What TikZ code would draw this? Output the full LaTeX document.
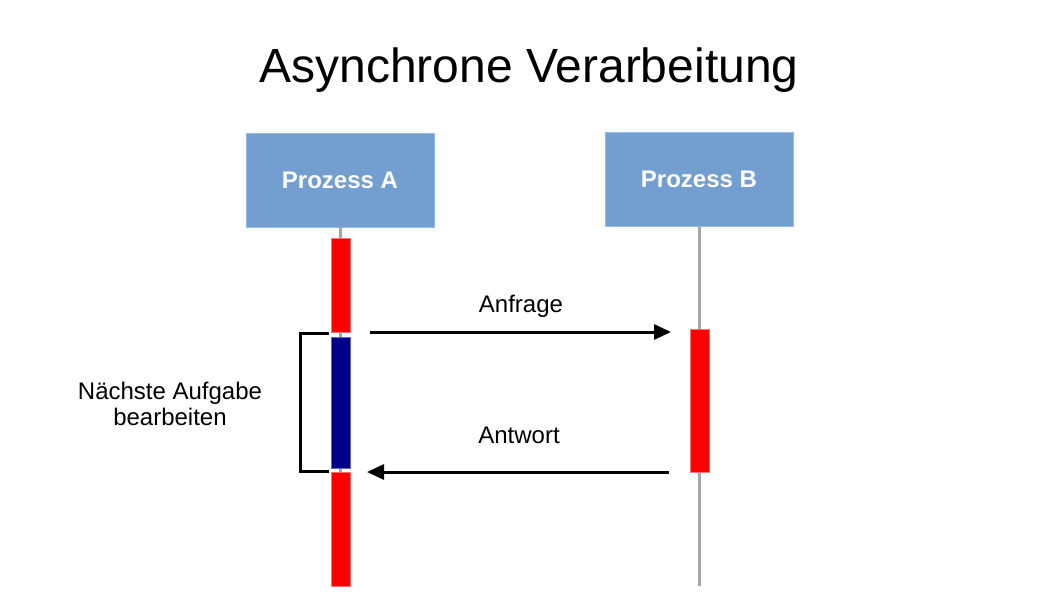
\documentclass[tikz,border=0pt]{standalone}
\usepackage{fontspec}
\setmainfont{Liberation Sans}
\usetikzlibrary{arrows.meta}
\definecolor{boxblue}{RGB}{114,159,207}
\definecolor{boxedge}{RGB}{150,185,225}
\definecolor{lifegray}{RGB}{166,166,166}
\definecolor{taskblue}{RGB}{0,0,139}
\tikzset{
  proc/.style={rectangle,fill=boxblue,draw=boxedge,line width=1pt,minimum width=188pt,minimum height=94pt,
    inner sep=0pt,outer sep=0pt,text=white,font=\fontsize{24}{28}\selectfont\bfseries},
  life/.style={lifegray,line width=3.5pt},
  bar/.style={rectangle,minimum width=19pt,inner sep=0pt,outer sep=0pt,line width=0.6pt},
  busy/.style={bar,fill=red,draw=red!55!white},
  work/.style={bar,fill=taskblue,draw=taskblue!60!white},
  msg/.style={line width=3pt,-{Triangle[length=17pt,width=15pt]}},
  lbl/.style={font=\fontsize{24}{26}\selectfont}
}
\begin{document}
\begin{tikzpicture}[x=1pt,y=-1pt]
  \useasboundingbox (0,0) rectangle (1058,595);
  \node[anchor=base,font=\fontsize{48}{56}\selectfont] (title) at (529,82) {Asynchrone Verarbeitung};
  \node[proc] (procA) at (340,180) {Prozess A};
  \node[proc] (procB) at (699,179.5) {Prozess B};
  \coordinate (endA) at (340.5,586);
  \coordinate (endB) at (699.5,586);
  \draw[life] (procA.south -| endA) -- (endA);
  \draw[life] (procB.south -| endB) -- (endB);
  \node[busy,minimum height=94pt] (a1) at (340.5,285) {};
  \node[work,minimum height=131pt] (a2) at (340.5,402.5) {};
  \node[busy,minimum height=114pt] (a3) at (340.5,529) {};
  \node[busy,minimum height=143pt] (b1) at (699.5,400.5) {};
  \draw[msg] ([xshift=20pt]a1.south east) -- (a1.south east -| b1.west) [shorten >=19pt];
  \draw[msg,shorten <=21pt,shorten >=17pt] (b1.south west) -- (a3.north east);
  \node[lbl,anchor=base] (req) at (521,312) {Anfrage};
  \node[lbl,anchor=base] (resp) at (519,443) {Antwort};
  \draw[line width=3pt] ([xshift=-2pt,yshift=4pt]a2.north west) -| ([xshift=-31pt,yshift=-3pt]a2.south west) -- ++(29,0);
  \node[lbl,align=center] (task) at (170,404) {Nächste Aufgabe\\bearbeiten};
\end{tikzpicture}
\end{document}
